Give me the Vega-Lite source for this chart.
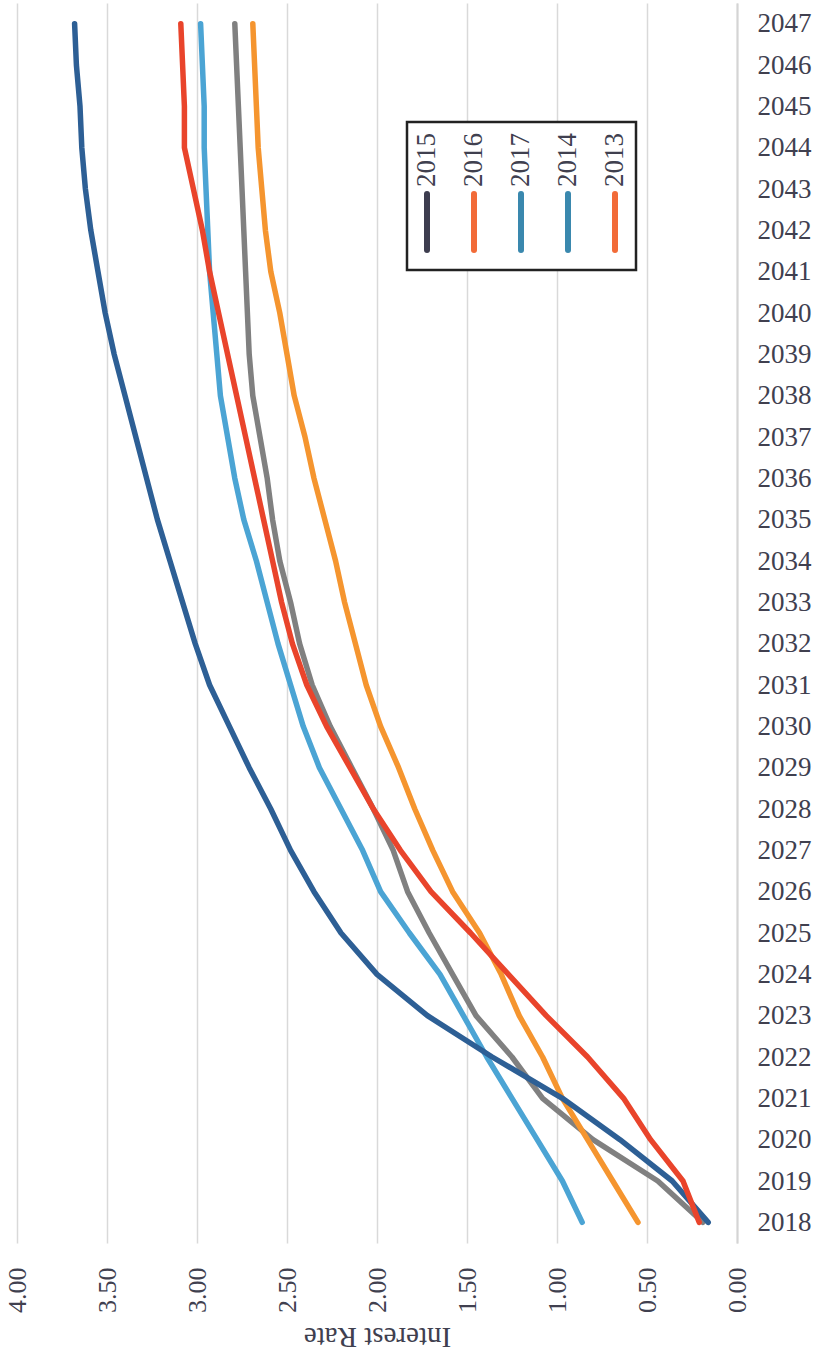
{
  "$schema": "https://vega.github.io/schema/vega-lite/v6.json",
  "width": 720,
  "height": 1240,
  "autosize": {"type": "none"},
  "padding": {"left": 17, "top": 3, "right": 78, "bottom": 117},
  "background": "white",
  "config": {"view": {"stroke": null}, "font": "Liberation Serif"},
  "datasets": {
    "rates": [
      {"series": "2014", "year": 2018, "rate": 0.19}, {"series": "2014", "year": 2019, "rate": 0.44}, {"series": "2014", "year": 2020, "rate": 0.8}, {"series": "2014", "year": 2021, "rate": 1.08}, {"series": "2014", "year": 2022, "rate": 1.25}, {"series": "2014", "year": 2023, "rate": 1.45}, {"series": "2014", "year": 2024, "rate": 1.58}, {"series": "2014", "year": 2025, "rate": 1.71}, {"series": "2014", "year": 2026, "rate": 1.83}, {"series": "2014", "year": 2027, "rate": 1.91}, {"series": "2014", "year": 2028, "rate": 2.02}, {"series": "2014", "year": 2029, "rate": 2.14}, {"series": "2014", "year": 2030, "rate": 2.26}, {"series": "2014", "year": 2031, "rate": 2.36}, {"series": "2014", "year": 2032, "rate": 2.43}, {"series": "2014", "year": 2033, "rate": 2.48}, {"series": "2014", "year": 2034, "rate": 2.54}, {"series": "2014", "year": 2035, "rate": 2.58}, {"series": "2014", "year": 2036, "rate": 2.61}, {"series": "2014", "year": 2037, "rate": 2.65}, {"series": "2014", "year": 2038, "rate": 2.69}, {"series": "2014", "year": 2039, "rate": 2.71}, {"series": "2014", "year": 2040, "rate": 2.72}, {"series": "2014", "year": 2041, "rate": 2.73}, {"series": "2014", "year": 2042, "rate": 2.74}, {"series": "2014", "year": 2043, "rate": 2.75}, {"series": "2014", "year": 2044, "rate": 2.76}, {"series": "2014", "year": 2045, "rate": 2.77}, {"series": "2014", "year": 2046, "rate": 2.78}, {"series": "2014", "year": 2047, "rate": 2.79},
      {"series": "2016", "year": 2018, "rate": 0.55}, {"series": "2016", "year": 2019, "rate": 0.69}, {"series": "2016", "year": 2020, "rate": 0.83}, {"series": "2016", "year": 2021, "rate": 0.97}, {"series": "2016", "year": 2022, "rate": 1.08}, {"series": "2016", "year": 2023, "rate": 1.21}, {"series": "2016", "year": 2024, "rate": 1.31}, {"series": "2016", "year": 2025, "rate": 1.43}, {"series": "2016", "year": 2026, "rate": 1.58}, {"series": "2016", "year": 2027, "rate": 1.69}, {"series": "2016", "year": 2028, "rate": 1.79}, {"series": "2016", "year": 2029, "rate": 1.88}, {"series": "2016", "year": 2030, "rate": 1.98}, {"series": "2016", "year": 2031, "rate": 2.06}, {"series": "2016", "year": 2032, "rate": 2.12}, {"series": "2016", "year": 2033, "rate": 2.18}, {"series": "2016", "year": 2034, "rate": 2.23}, {"series": "2016", "year": 2035, "rate": 2.29}, {"series": "2016", "year": 2036, "rate": 2.35}, {"series": "2016", "year": 2037, "rate": 2.4}, {"series": "2016", "year": 2038, "rate": 2.46}, {"series": "2016", "year": 2039, "rate": 2.5}, {"series": "2016", "year": 2040, "rate": 2.54}, {"series": "2016", "year": 2041, "rate": 2.59}, {"series": "2016", "year": 2042, "rate": 2.62}, {"series": "2016", "year": 2043, "rate": 2.64}, {"series": "2016", "year": 2044, "rate": 2.66}, {"series": "2016", "year": 2045, "rate": 2.67}, {"series": "2016", "year": 2046, "rate": 2.68}, {"series": "2016", "year": 2047, "rate": 2.69},
      {"series": "2017", "year": 2018, "rate": 0.86}, {"series": "2017", "year": 2019, "rate": 0.97}, {"series": "2017", "year": 2020, "rate": 1.11}, {"series": "2017", "year": 2021, "rate": 1.25}, {"series": "2017", "year": 2022, "rate": 1.39}, {"series": "2017", "year": 2023, "rate": 1.52}, {"series": "2017", "year": 2024, "rate": 1.65}, {"series": "2017", "year": 2025, "rate": 1.82}, {"series": "2017", "year": 2026, "rate": 1.98}, {"series": "2017", "year": 2027, "rate": 2.08}, {"series": "2017", "year": 2028, "rate": 2.2}, {"series": "2017", "year": 2029, "rate": 2.32}, {"series": "2017", "year": 2030, "rate": 2.41}, {"series": "2017", "year": 2031, "rate": 2.48}, {"series": "2017", "year": 2032, "rate": 2.55}, {"series": "2017", "year": 2033, "rate": 2.61}, {"series": "2017", "year": 2034, "rate": 2.67}, {"series": "2017", "year": 2035, "rate": 2.74}, {"series": "2017", "year": 2036, "rate": 2.79}, {"series": "2017", "year": 2037, "rate": 2.83}, {"series": "2017", "year": 2038, "rate": 2.87}, {"series": "2017", "year": 2039, "rate": 2.89}, {"series": "2017", "year": 2040, "rate": 2.91}, {"series": "2017", "year": 2041, "rate": 2.93}, {"series": "2017", "year": 2042, "rate": 2.94}, {"series": "2017", "year": 2043, "rate": 2.95}, {"series": "2017", "year": 2044, "rate": 2.96}, {"series": "2017", "year": 2045, "rate": 2.96}, {"series": "2017", "year": 2046, "rate": 2.97}, {"series": "2017", "year": 2047, "rate": 2.98},
      {"series": "2015", "year": 2018, "rate": 0.16}, {"series": "2015", "year": 2019, "rate": 0.36}, {"series": "2015", "year": 2020, "rate": 0.65}, {"series": "2015", "year": 2021, "rate": 0.97}, {"series": "2015", "year": 2022, "rate": 1.36}, {"series": "2015", "year": 2023, "rate": 1.72}, {"series": "2015", "year": 2024, "rate": 2.0}, {"series": "2015", "year": 2025, "rate": 2.2}, {"series": "2015", "year": 2026, "rate": 2.35}, {"series": "2015", "year": 2027, "rate": 2.48}, {"series": "2015", "year": 2028, "rate": 2.59}, {"series": "2015", "year": 2029, "rate": 2.71}, {"series": "2015", "year": 2030, "rate": 2.82}, {"series": "2015", "year": 2031, "rate": 2.93}, {"series": "2015", "year": 2032, "rate": 3.01}, {"series": "2015", "year": 2033, "rate": 3.08}, {"series": "2015", "year": 2034, "rate": 3.15}, {"series": "2015", "year": 2035, "rate": 3.22}, {"series": "2015", "year": 2036, "rate": 3.28}, {"series": "2015", "year": 2037, "rate": 3.34}, {"series": "2015", "year": 2038, "rate": 3.4}, {"series": "2015", "year": 2039, "rate": 3.46}, {"series": "2015", "year": 2040, "rate": 3.51}, {"series": "2015", "year": 2041, "rate": 3.55}, {"series": "2015", "year": 2042, "rate": 3.59}, {"series": "2015", "year": 2043, "rate": 3.62}, {"series": "2015", "year": 2044, "rate": 3.64}, {"series": "2015", "year": 2045, "rate": 3.65}, {"series": "2015", "year": 2046, "rate": 3.67}, {"series": "2015", "year": 2047, "rate": 3.68},
      {"series": "2013", "year": 2018, "rate": 0.21}, {"series": "2013", "year": 2019, "rate": 0.3}, {"series": "2013", "year": 2020, "rate": 0.48}, {"series": "2013", "year": 2021, "rate": 0.63}, {"series": "2013", "year": 2022, "rate": 0.83}, {"series": "2013", "year": 2023, "rate": 1.06}, {"series": "2013", "year": 2024, "rate": 1.27}, {"series": "2013", "year": 2025, "rate": 1.48}, {"series": "2013", "year": 2026, "rate": 1.7}, {"series": "2013", "year": 2027, "rate": 1.87}, {"series": "2013", "year": 2028, "rate": 2.02}, {"series": "2013", "year": 2029, "rate": 2.15}, {"series": "2013", "year": 2030, "rate": 2.28}, {"series": "2013", "year": 2031, "rate": 2.39}, {"series": "2013", "year": 2032, "rate": 2.47}, {"series": "2013", "year": 2033, "rate": 2.53}, {"series": "2013", "year": 2034, "rate": 2.58}, {"series": "2013", "year": 2035, "rate": 2.63}, {"series": "2013", "year": 2036, "rate": 2.68}, {"series": "2013", "year": 2037, "rate": 2.73}, {"series": "2013", "year": 2038, "rate": 2.78}, {"series": "2013", "year": 2039, "rate": 2.83}, {"series": "2013", "year": 2040, "rate": 2.88}, {"series": "2013", "year": 2041, "rate": 2.93}, {"series": "2013", "year": 2042, "rate": 2.97}, {"series": "2013", "year": 2043, "rate": 3.02}, {"series": "2013", "year": 2044, "rate": 3.07}, {"series": "2013", "year": 2045, "rate": 3.07}, {"series": "2013", "year": 2046, "rate": 3.08}, {"series": "2013", "year": 2047, "rate": 3.09}
    ]
  },
  "data": {"name": "rates"},
  "encoding": {
    "y": {
      "field": "year", "type": "ordinal", "sort": "descending",
      "scale": {"type": "point", "padding": 0.5},
      "axis": {
        "orient": "right", "title": null, "labelFont": "Liberation Serif", "labelFontSize": 27,
        "labelColor": "#40404f", "labelAlign": "left", "labelBaseline": "middle", "labelPadding": 20,
        "ticks": false, "domain": true, "domainColor": "#d4d4d4", "domainWidth": 2, "grid": false,
        "labelOverlap": false
      }
    },
    "x": {
      "field": "rate", "type": "quantitative",
      "scale": {"domain": [0, 4], "reverse": true, "nice": false, "zero": true},
      "axis": {
        "orient": "bottom", "title": "Interest Rate", "values": [0, 0.5, 1, 1.5, 2, 2.5, 3, 3.5, 4],
        "format": ".2f", "labelAngle": -90, "labelFont": "Liberation Serif", "labelFontSize": 26,
        "labelColor": "#40404f", "labelPadding": 24, "labelFlush": false, "labelOverlap": false,
        "ticks": false, "domain": false, "grid": true, "gridColor": "#d9d9d9", "gridWidth": 1.5,
        "titleAngle": 180, "titleFont": "Liberation Serif", "titleFontSize": 29, "titleFontWeight": "normal",
        "titleColor": "#40404f", "titleBaseline": "middle", "titleY": 93
      }
    }
  },
  "layer": [
    {
      "mark": {"type": "line", "strokeWidth": 5.5, "strokeCap": "round", "strokeJoin": "round"},
      "encoding": {
        "color": {
          "field": "series", "type": "nominal",
          "scale": {"domain": ["2014", "2016", "2017", "2015", "2013"], "range": ["#808080", "#f5952f", "#4ba4d4", "#2d5f95", "#e9442b"]},
          "legend": null
        }
      }
    },
    {
      "mark": {"type": "line", "opacity": 0},
      "encoding": {
        "color": {
          "field": "series", "type": "nominal",
          "scale": {"domain": ["2015", "2016", "2017", "2014", "2013"], "range": ["#3d3d4f", "#f26b38", "#3a88ae", "#3a88ae", "#f26b38"]},
          "legend": {
            "title": null, "orient": "none", "legendX": 390, "legendY": 119,
            "direction": "horizontal", "columns": 5, "columnPadding": 20,
            "padding": 8, "strokeColor": "#222222", "fillColor": "white",
            "symbolType": "M0,-1L0,1", "symbolSize": 3136, "symbolStrokeWidth": 6, "symbolOpacity": 1,
            "labelFont": "Liberation Serif", "labelFontSize": 27, "labelColor": "#40404f",
            "encode": {
              "legend": {"update": {"strokeWidth": {"value": 2.5}}},
              "symbols": {"update": {"x": {"value": 12}, "y": {"value": 92}, "strokeCap": {"value": "round"}}},
              "labels": {"update": {"x": {"value": 12}, "y": {"value": 57}, "angle": {"value": -90}, "align": {"value": "left"}, "baseline": {"value": "middle"}}}
            }
          }
        }
      }
    }
  ],
  "resolve": {"scale": {"color": "independent"}}
}
